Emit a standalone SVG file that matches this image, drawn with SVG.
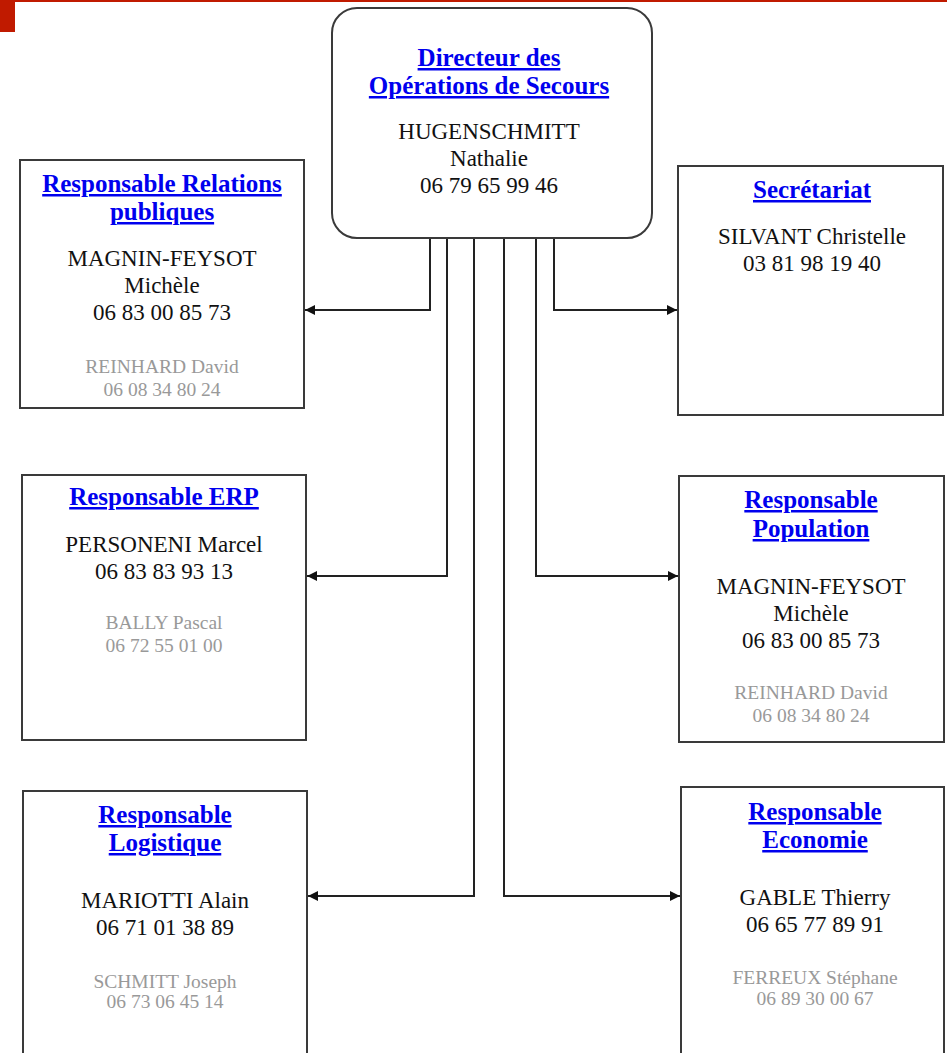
<svg xmlns="http://www.w3.org/2000/svg" width="947" height="1053" viewBox="0 0 947 1053">
<style>
.box{fill:#fff;stroke:#3a3a3a;stroke-width:2}
.t{font-family:"Liberation Serif","Times New Roman",serif;font-weight:bold;font-size:25px;fill:#0000ee;text-decoration:underline;text-anchor:middle}
.b{font-family:"Liberation Serif","Times New Roman",serif;font-size:23px;fill:#111;text-anchor:middle}
.g{font-family:"Liberation Serif","Times New Roman",serif;font-size:19.5px;fill:#999;text-anchor:middle}
.c{fill:none;stroke:#222;stroke-width:2}
</style>
<defs>
<marker id="ah" viewBox="0 0 10 10" refX="10" refY="5" markerWidth="5" markerHeight="5" orient="auto" markerUnits="strokeWidth">
<path d="M0,0 L10,5 L0,10 z" fill="#111"/>
</marker>
</defs>
<rect x="0" y="0" width="947" height="1053" fill="#fff"/>
<rect x="0" y="0" width="947" height="2" fill="#c01a00"/>
<rect x="0" y="0" width="15" height="32" fill="#c01a00"/>

<g id="connectors">
<polyline class="c" points="430,238 430,310 305,310" marker-end="url(#ah)"/>
<polyline class="c" points="447,238 447,576 307,576" marker-end="url(#ah)"/>
<polyline class="c" points="474,238 474,896 308,896" marker-end="url(#ah)"/>
<polyline class="c" points="504,238 504,896 680,896" marker-end="url(#ah)"/>
<polyline class="c" points="536,238 536,576 678,576" marker-end="url(#ah)"/>
<polyline class="c" points="554,238 554,310 677,310" marker-end="url(#ah)"/>
</g>

<g id="director">
<rect class="box" x="332" y="8" width="320" height="230" rx="25" ry="25"/>
<text class="t" x="489" y="66">Directeur des</text>
<text class="t" x="489" y="94">Opérations de Secours</text>
<text class="b" x="489" y="139">HUGENSCHMITT</text>
<text class="b" x="489" y="166">Nathalie</text>
<text class="b" x="489" y="193">06 79 65 99 46</text>
</g>

<g id="relations">
<rect class="box" x="20" y="160" width="284" height="248"/>
<text class="t" x="162" y="192">Responsable Relations</text>
<text class="t" x="162" y="220">publiques</text>
<text class="b" x="162" y="266">MAGNIN-FEYSOT</text>
<text class="b" x="162" y="293">Michèle</text>
<text class="b" x="162" y="320">06 83 00 85 73</text>
<text class="g" x="162" y="373">REINHARD David</text>
<text class="g" x="162" y="396">06 08 34 80 24</text>
</g>

<g id="secretariat">
<rect class="box" x="678" y="166" width="265" height="249"/>
<text class="t" x="812" y="198">Secrétariat</text>
<text class="b" x="812" y="244">SILVANT Christelle</text>
<text class="b" x="812" y="271">03 81 98 19 40</text>
</g>

<g id="erp">
<rect class="box" x="22" y="475" width="284" height="265"/>
<text class="t" x="164" y="505">Responsable ERP</text>
<text class="b" x="164" y="552">PERSONENI Marcel</text>
<text class="b" x="164" y="579">06 83 83 93 13</text>
<text class="g" x="164" y="629">BALLY Pascal</text>
<text class="g" x="164" y="652">06 72 55 01 00</text>
</g>

<g id="population">
<rect class="box" x="679" y="476" width="265" height="266"/>
<text class="t" x="811" y="508">Responsable</text>
<text class="t" x="811" y="537">Population</text>
<text class="b" x="811" y="594">MAGNIN-FEYSOT</text>
<text class="b" x="811" y="621">Michèle</text>
<text class="b" x="811" y="648">06 83 00 85 73</text>
<text class="g" x="811" y="699">REINHARD David</text>
<text class="g" x="811" y="722">06 08 34 80 24</text>
</g>

<g id="logistique">
<rect class="box" x="23" y="791" width="284" height="280"/>
<text class="t" x="165" y="823">Responsable</text>
<text class="t" x="165" y="851">Logistique</text>
<text class="b" x="165" y="908">MARIOTTI Alain</text>
<text class="b" x="165" y="935">06 71 01 38 89</text>
<text class="g" x="165" y="988">SCHMITT Joseph</text>
<text class="g" x="165" y="1008">06 73 06 45 14</text>
</g>

<g id="economie">
<rect class="box" x="681" y="787" width="263" height="284"/>
<text class="t" x="815" y="820">Responsable</text>
<text class="t" x="815" y="848">Economie</text>
<text class="b" x="815" y="905">GABLE Thierry</text>
<text class="b" x="815" y="932">06 65 77 89 91</text>
<text class="g" x="815" y="984">FERREUX Stéphane</text>
<text class="g" x="815" y="1005">06 89 30 00 67</text>
</g>
</svg>
